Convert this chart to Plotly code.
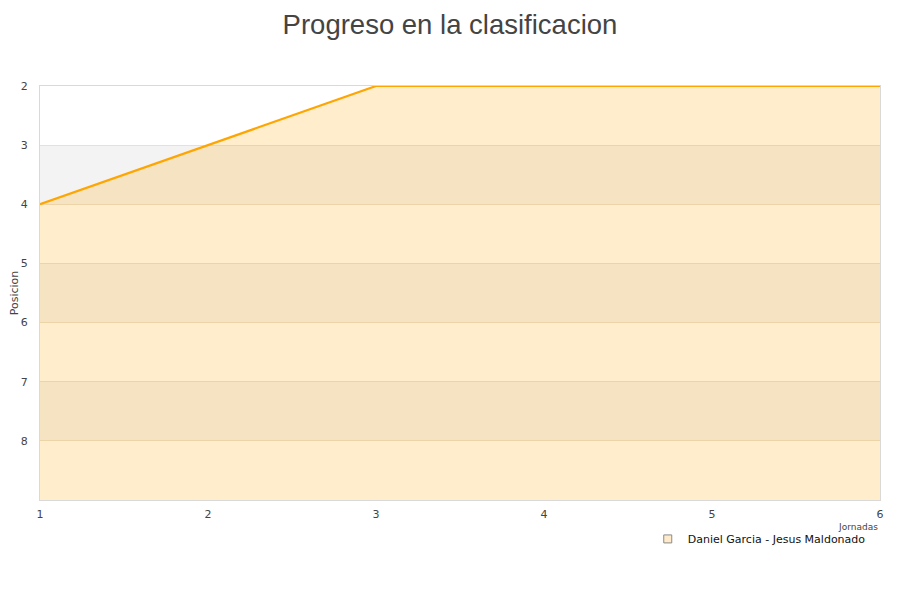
import plotly.graph_objects as go

jornadas = [1, 2, 3, 4, 5, 6]
posiciones = [4, 3, 2, 2, 2, 2]
serie = "Daniel Garcia - Jesus Maldonado"
y_ticks = [2, 3, 4, 5, 6, 7, 8]
y_bottom = 9
band_starts = [3, 5, 7]

fig = go.Figure()

# baseline for fill
fig.add_trace(go.Scatter(x=jornadas, y=[y_bottom] * len(jornadas), mode="lines",
                         line=dict(width=0, color="rgba(0,0,0,0)"), showlegend=False,
                         hoverinfo="skip"))
fig.add_trace(go.Scatter(x=jornadas, y=posiciones, mode="lines", name=serie,
                         line=dict(color="#FFA500", width=2.2),
                         fill="tonexty", fillcolor="rgba(255,165,0,0.2)",
                         showlegend=False))
# legend marker
fig.add_trace(go.Scatter(x=[None], y=[None], mode="markers", name=serie,
                         marker=dict(symbol="square", size=8, color="#ffebc9",
                                     line=dict(color="#8a8a8a", width=1))))

for b in band_starts:
    fig.add_shape(type="rect", xref="paper", x0=0, x1=1, yref="y", y0=b, y1=b + 1,
                  fillcolor="#f3f3f3", line_width=0, layer="below")

fig.add_annotation(text="Jornadas", xref="paper", yref="paper", x=1.0, y=-0.065,
                   xanchor="right", yanchor="middle", showarrow=False,
                   font=dict(size=9, color="#444"))

fig.update_layout(
    width=892, height=592,
    margin=dict(l=32, r=20, t=78, b=100, autoexpand=False),
    paper_bgcolor="white", plot_bgcolor="white",
    font=dict(family="DejaVu Sans", size=11, color="#444"),
    title=dict(text="Progreso en la clasificacion", x=0.4955, xanchor="center",
               y=0.973, yanchor="middle",
               font=dict(family="Liberation Sans", size=27.5, color="#444")),
    xaxis=dict(range=[1, 6], tickvals=jornadas, showgrid=False, zeroline=False,
               showline=True, linecolor="#d9d9d9", mirror=True, linewidth=1,
               ticks="", ticklabelstandoff=4, automargin=False,
               tickfont=dict(size=11, color="#444")),
    yaxis=dict(range=[y_bottom, 2], tickvals=y_ticks, showgrid=True,
               gridcolor="#e8e0d2", zeroline=False, showline=True,
               linecolor="#d9d9d9", mirror=True, linewidth=1, ticks="",
               ticklabelstandoff=9, automargin=False,
               tickfont=dict(size=11, color="#444"),
               title=dict(text="Posicion", standoff=5, font=dict(size=11, color="#444"))),
    legend=dict(x=0.989, xanchor="right", y=-0.094, yanchor="middle",
                bgcolor="rgba(0,0,0,0)", font=dict(size=11, color="#111"),
                itemwidth=30, tracegroupgap=0),
    showlegend=True,
)

fig.write_html("out.html")
